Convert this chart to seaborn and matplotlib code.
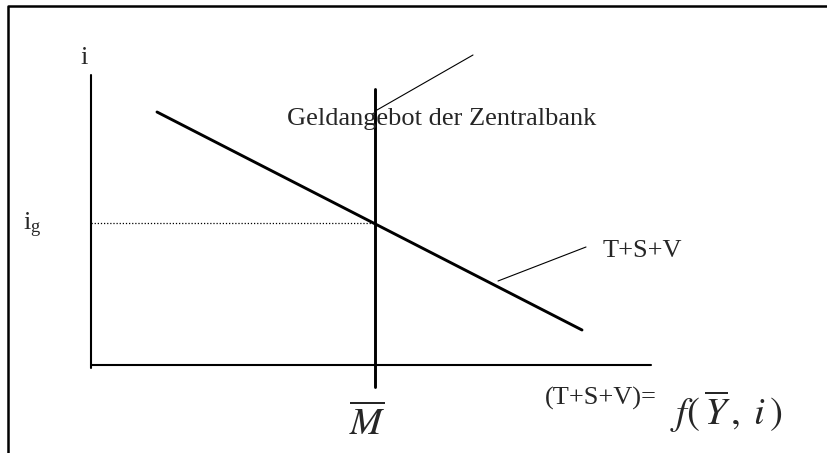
import matplotlib
matplotlib.use("Agg")
import matplotlib.pyplot as plt
import seaborn as sns

# ---------------------------------------
# 1. Diagram data (units: quantity of money M / interest rate i)
# ---------------------------------------
axis_i_x = [0, 0]
axis_i_y = [-3, 290]
axis_m_x = [0, 560]
axis_m_y = [0, 0]

m_bar = 284          # money supply of the central bank
supply_i = [-22, 276]

demand_m = [66, 491]  # money demand T+S+V
demand_i = [253, 35]

i_g = 142            # equilibrium interest rate

leader_supply_m = [286, 382]
leader_supply_i = [255, 310]
leader_demand_m = [407, 495]
leader_demand_i = [84, 118]

frame_x = [-83, -83, 737]
frame_y = [-88, 359, 359]

# ---------------------------------------
# 2. Figure
# ---------------------------------------
sns.set_style("white")
plt.rcParams["font.family"] = ["Liberation Serif", "DejaVu Serif"]
plt.rcParams["mathtext.fontset"] = "stix"

fig = plt.figure(figsize=(8.28, 4.53), dpi=100)
ax = fig.add_axes([0, 0, 1, 1])
ax.set_xlim(-91, 737)
ax.set_ylim(-88, 365)
ax.axis("off")

# outer frame
sns.lineplot(x=frame_x, y=frame_y, sort=False, estimator=None, color="black", lw=1.8, ax=ax)

# axes of the diagram
sns.lineplot(x=axis_i_x, y=axis_i_y, sort=False, estimator=None, color="black", lw=1.5, ax=ax)
sns.lineplot(x=axis_m_x, y=axis_m_y, sort=False, estimator=None, color="black", lw=1.5, ax=ax)

# money supply (vertical) and money demand
sns.lineplot(x=[m_bar, m_bar], y=supply_i, sort=False, estimator=None, color="black", lw=2.1, ax=ax)
sns.lineplot(x=demand_m, y=demand_i, sort=False, estimator=None, color="black", lw=2.1, ax=ax)

# equilibrium interest rate
ax.plot([0, m_bar], [i_g, i_g], color="black", lw=0.9, ls=(0, (1, 1.5)))

# leader lines for the labels
ax.plot(leader_supply_m, leader_supply_i, color="black", lw=0.8)
ax.plot(leader_demand_m, leader_demand_i, color="black", lw=0.8)

# ---------------------------------------
# 3. Labels
# ---------------------------------------
fs = 19
ax.text(-7, 301, "i", fontsize=fs, ha="center", va="baseline")
ax.text(-49, 135, r"i$_\mathregular{g}$", fontsize=fs, ha="right", va="baseline")
ax.text(196, 240, "Geldangebot der Zentralbank", fontsize=fs, ha="left", va="baseline")
ax.text(512, 108, "T+S+V", fontsize=fs, ha="left", va="baseline")
ax.text(276, -70, r"$\overline{M}$", fontsize=28, ha="center", va="baseline")
ax.text(566, -40, "(T+S+V)=", fontsize=fs, ha="right", va="baseline")
ax.text(579, -60, r"$f(\,\overline{Y}\,,\;i\,)$", fontsize=28, ha="left", va="baseline")

plt.savefig("out.png", dpi=100)
